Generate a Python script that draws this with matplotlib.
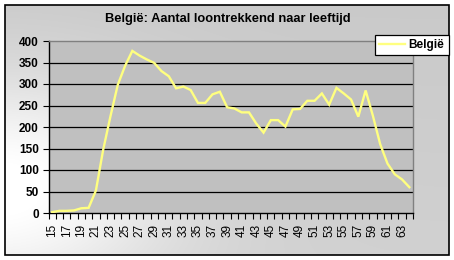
import numpy as np
import matplotlib
matplotlib.use("Agg")
import matplotlib.pyplot as plt
from matplotlib.patches import Rectangle

ages = list(range(15, 65))
values = [2, 5, 5, 6, 11, 12, 52, 147, 225, 298, 342, 377, 366, 357, 349,
          330, 318, 290, 294, 286, 256, 256, 276, 282, 246, 243, 234, 234,
          208, 187, 216, 216, 201, 241, 242, 261, 261, 278, 252, 291, 278,
          264, 224, 285, 226, 160, 115, 90, 78, 60]
yticks = [0, 50, 100, 150, 200, 250, 300, 350, 400]
title = "België: Aantal loontrekkend naar leeftijd"
series_name = "België"

W, H = 454, 260
fig = plt.figure(figsize=(W / 100, H / 100), dpi=100)
fig.patch.set_facecolor("white")

# background gradient
bg = fig.add_axes([0, 0, 1, 1], zorder=0)
bg.set_axis_off()
yy, xx = np.mgrid[0:H, 0:W]
light = 0.79 + 0.20 * np.exp(-((xx) / 170.0) ** 2) * np.exp(-((yy - 185) / 110.0) ** 2) + 0.03 * (yy / H)
img = np.dstack([light, light, light]).clip(0, 1)
bg.imshow(img, extent=[0, W, H, 0], aspect="auto", interpolation="bilinear")
bg.set_xlim(0, W)
bg.set_ylim(H, 0)
# white margin and black border
for (x0, y0, w, h) in [(0, 0, W, 5), (0, 255, W, 5), (0, 0, 5, H), (449, 0, 5, H)]:
    bg.add_patch(Rectangle((x0, y0), w, h, facecolor="white", edgecolor="none"))
bg.add_patch(Rectangle((5, 5), 444, 250, facecolor="none", edgecolor="black", lw=1.2))

plt.rcParams['font.family'] = ['Liberation Sans', 'DejaVu Sans']

ax = fig.add_axes([48.5 / W, 1 - 213 / H, (413 - 48.5) / W, (213 - 41) / H], zorder=1)
ax.set_facecolor("#C0C0C0")
x = np.arange(len(ages))
ax.plot(x, values, color="#FFFF80", lw=1.7, solid_joinstyle="miter", label=series_name, zorder=3)

ax.set_xlim(-0.5, len(ages) - 0.5)
ax.set_ylim(0, 400)
ax.set_yticks(yticks)
ax.set_yticklabels([str(v) for v in yticks], fontsize=8.5, fontweight="bold")
for v in yticks[1:-1]:
    ax.axhline(v, color="black", lw=0.9, zorder=2)

ax.set_xticks(x[::2])
ax.set_xticklabels([str(a) for a in ages[::2]], rotation=90, fontsize=8.5)
ax.set_xticks(np.arange(-0.5, len(ages), 1), minor=True)
ax.tick_params(axis="x", which="major", length=0, pad=8)
ax.tick_params(axis="x", which="minor", length=4, width=0.8, direction="out", color="black")
ax.tick_params(axis="y", length=4, width=0.8, direction="out", pad=3)

for s in ["left", "bottom"]:
    ax.spines[s].set_color("black")
    ax.spines[s].set_linewidth(1.0)
for s in ["top", "right"]:
    ax.spines[s].set_color("#808080")
    ax.spines[s].set_linewidth(1.0)

fig.text(228 / W, 1 - 19 / H, title, ha="center", va="center", fontsize=9.3, fontweight="bold")

leg = ax.legend(loc="upper left", bbox_to_anchor=(375 / W, 1 - 35 / H), bbox_transform=fig.transFigure,
                frameon=True, fancybox=False, prop={"weight": "bold", "size": 8.5},
                handlelength=2.2, handletextpad=0.3, borderpad=0.35, borderaxespad=0)
leg.get_frame().set_edgecolor("black")
leg.get_frame().set_linewidth(0.9)
leg.get_frame().set_facecolor("white")
leg.get_frame().set_alpha(1)
leg.set_zorder(5)

fig.savefig("out.png", dpi=100)
